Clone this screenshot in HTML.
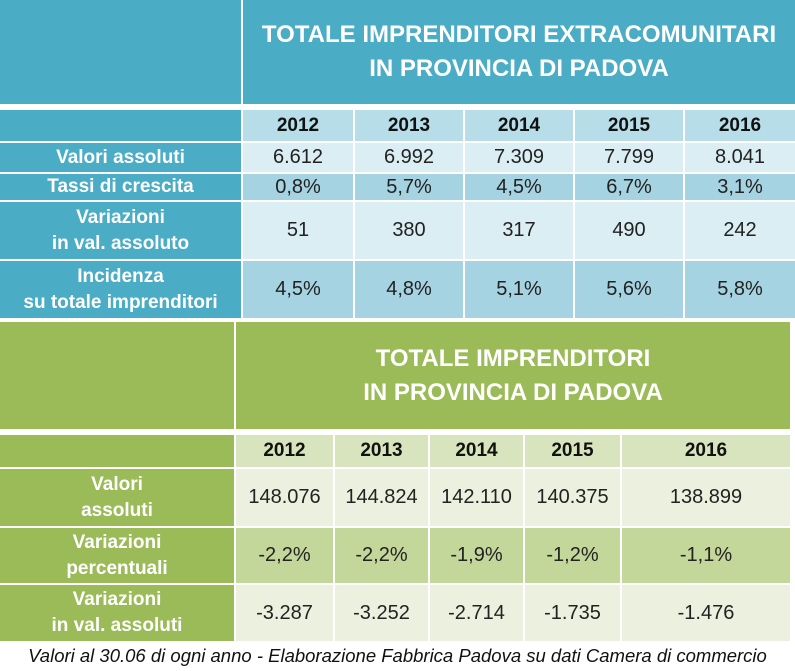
<!DOCTYPE html>
<html><head><meta charset="utf-8"><style>
body{margin:0;width:795px;height:671px;background:#fff;position:relative;overflow:hidden;font-family:"Liberation Sans",sans-serif;}
.c{position:absolute;display:flex;align-items:center;justify-content:center;text-align:center;box-sizing:border-box;}
.t{color:#fff;font-weight:bold;font-size:24px;line-height:34px;}
.l{color:#fff;font-weight:bold;font-size:19px;line-height:26px;}
.h{font-weight:bold;font-size:19px;color:#111;}
.d{font-size:20px;color:#222;}
</style></head><body>
<div class="c" style="left:0;top:0;width:241px;height:104px;background:#4BACC6"></div>
<div class="c t" style="left:243px;top:0;width:552px;height:104px;background:#4BACC6">TOTALE IMPRENDITORI EXTRACOMUNITARI<br>IN PROVINCIA DI PADOVA</div>
<div class="c" style="left:0;top:110px;width:241px;height:31px;background:#4BACC6"></div>
<div class="c l" style="left:0;top:143px;width:241px;height:29px;background:#4BACC6">Valori assoluti</div>
<div class="c l" style="left:0;top:174px;width:241px;height:26px;background:#4BACC6">Tassi di crescita</div>
<div class="c l" style="left:0;top:202px;width:241px;height:57px;background:#4BACC6">Variazioni<br>in val. assoluto</div>
<div class="c l" style="left:0;top:261px;width:241px;height:57px;background:#4BACC6">Incidenza<br>su totale imprenditori</div>
<div id="bt"></div>
<div class="c" style="left:0;top:322px;width:234px;height:107px;background:#9BBB59"></div>
<div class="c t" style="left:236px;top:322px;width:554px;height:107px;background:#9BBB59">TOTALE IMPRENDITORI<br>IN PROVINCIA DI PADOVA</div>
<div class="c" style="left:0;top:435px;width:234px;height:32px;background:#9BBB59"></div>
<div class="c l" style="left:0;top:469px;width:234px;height:57px;background:#9BBB59">Valori<br>assoluti</div>
<div class="c l" style="left:0;top:528px;width:234px;height:55px;background:#9BBB59">Variazioni<br>percentuali</div>
<div class="c l" style="left:0;top:585px;width:234px;height:56px;background:#9BBB59">Variazioni<br>in val. assoluti</div>
<div id="gt"></div>
<div style="position:absolute;left:0;width:795px;top:645px;text-align:center;font-style:italic;font-size:18.5px;color:#111;white-space:nowrap;">Valori al 30.06 di ogni anno - Elaborazione Fabbrica Padova su dati Camera di commercio</div>
<script>
function build(id,cols,rows){let h='';rows.forEach(r=>{cols.forEach((c,i)=>{h+=`<div class="c ${r.cls}" style="left:${c[0]}px;width:${c[1]-c[0]}px;top:${r.y}px;height:${r.h}px;background:${r.bg}">${r.v[i]}</div>`})});document.getElementById(id).outerHTML=h;}
build('bt',[[243,353],[355,463],[465,573],[575,683],[685,795]],[
{y:110,h:31,bg:'#B7DDE8',cls:'h',v:['2012','2013','2014','2015','2016']},
{y:143,h:29,bg:'#DAEEF3',cls:'d',v:['6.612','6.992','7.309','7.799','8.041']},
{y:174,h:26,bg:'#A5D3E2',cls:'d',v:['0,8%','5,7%','4,5%','6,7%','3,1%']},
{y:202,h:57,bg:'#DAEEF3',cls:'d',v:['51','380','317','490','242']},
{y:261,h:57,bg:'#A5D3E2',cls:'d',v:['4,5%','4,8%','5,1%','5,6%','5,8%']}]);
build('gt',[[236,333],[335,428],[430,523],[525,620],[622,790]],[
{y:435,h:32,bg:'#D7E4BD',cls:'h',v:['2012','2013','2014','2015','2016']},
{y:469,h:57,bg:'#EBF1DE',cls:'d',v:['148.076','144.824','142.110','140.375','138.899']},
{y:528,h:55,bg:'#C4D79B',cls:'d',v:['-2,2%','-2,2%','-1,9%','-1,2%','-1,1%']},
{y:585,h:56,bg:'#EBF1DE',cls:'d',v:['-3.287','-3.252','-2.714','-1.735','-1.476']}]);
</script>
</body></html>
